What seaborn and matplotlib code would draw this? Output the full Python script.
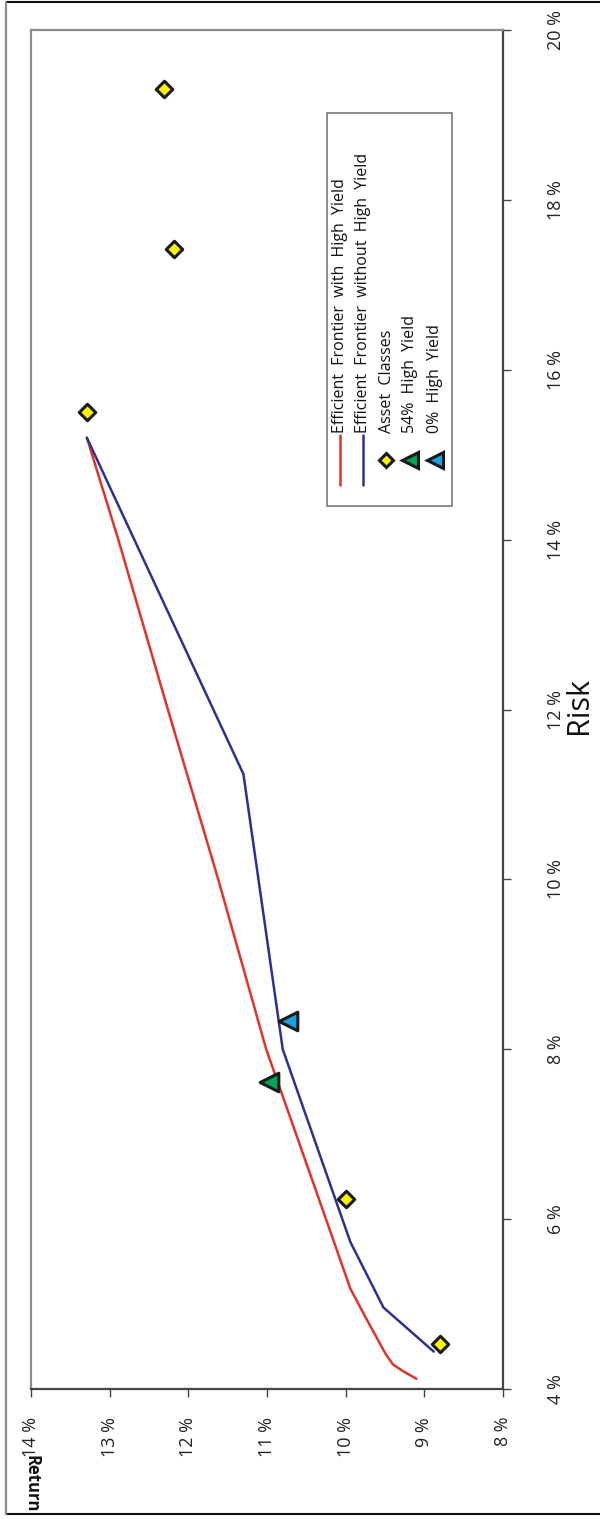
import matplotlib
matplotlib.use("Agg")
import matplotlib.pyplot as plt
from matplotlib.lines import Line2D
from matplotlib.patches import Rectangle
import seaborn as sns

# Efficient frontier including high yield bonds (risk %, return %)
with_hy_risk = [4.12, 4.21, 4.29, 4.41, 4.51, 4.85, 5.18, 6.0, 7.0, 8.0, 10.0, 12.0, 14.0, 15.2]
with_hy_ret = [9.10, 9.27, 9.40, 9.49, 9.55, 9.75, 9.94, 10.25, 10.63, 11.01, 11.62, 12.26, 12.89, 13.29]

# Efficient frontier excluding high yield bonds
without_hy_risk = [4.44, 4.96, 5.73, 8.0, 11.24, 15.2]
without_hy_ret = [8.88, 9.52, 9.94, 10.80, 11.30, 13.29]

# Individual asset classes
asset_risk = [4.53, 6.24, 15.5, 17.42, 19.31]
asset_ret = [8.80, 10.00, 13.29, 12.18, 12.31]

# Selected portfolios
p54_risk, p54_ret = [7.61], [10.98]
p0_risk, p0_ret = [8.33], [10.73]

ret_ticks = [8, 9, 10, 11, 12, 13, 14]
risk_ticks = [4, 6, 8, 10, 12, 14, 16, 18, 20]
legend_labels = [
    "Efficient  Frontier  with  High  Yield",
    "Efficient  Frontier  without  High  Yield",
    "Asset  Classes",
    "54%  High  Yield",
    "0%  High  Yield",
]

RED = "#e0342b"
BLUE = "#2e3192"
YELLOW = "#fff200"
GREEN = "#00a651"
CYAN = "#1ba1e2"
EDGE = "#1a1a1a"

sns.set_theme(style="white")
plt.rcParams["font.family"] = ["Open Sans", "DejaVu Sans"]

W, H = 600, 1519
fig = plt.figure(figsize=(W / 100, H / 100), dpi=100)


def fx(px):
    return px / W


def fy(py):
    return 1 - py / H


ax = fig.add_axes([fx(31), fy(1389), (503 - 31) / W, (1389 - 30) / H])

# The chart is laid out turned on its side: return runs along the bottom,
# risk runs up the right-hand side.
sns.lineplot(x=with_hy_ret, y=with_hy_risk, sort=False, color=RED, lw=1.8, ax=ax)
sns.lineplot(x=without_hy_ret, y=without_hy_risk, sort=False, color=BLUE, lw=1.8, ax=ax)
sns.scatterplot(x=asset_ret, y=asset_risk, marker="D", s=70, color=YELLOW,
                edgecolor=EDGE, linewidth=2.2, ax=ax, zorder=5)
sns.scatterplot(x=p54_ret, y=p54_risk, marker="<", s=180, color=GREEN,
                edgecolor=EDGE, linewidth=2.2, ax=ax, zorder=5)
sns.scatterplot(x=p0_ret, y=p0_risk, marker="<", s=180, color=CYAN,
                edgecolor=EDGE, linewidth=2.2, ax=ax, zorder=5)

ax.set_xlim(14, 8)
ax.set_ylim(4, 20)
ax.set_xticks(ret_ticks)
ax.set_xticklabels([f"{v} %" for v in ret_ticks], rotation=90)
ax.yaxis.tick_right()
ax.set_yticks(risk_ticks)
ax.set_yticklabels([f"{v} %" for v in risk_ticks], rotation=90, va="center")
ax.tick_params(axis="x", direction="out", length=6, width=1, color="#444",
               labelsize=13, pad=14, labelcolor="#222", bottom=True)
ax.tick_params(axis="y", direction="out", length=6, width=1, color="#444",
               labelsize=13, pad=26, labelcolor="#222", right=True)

for side in ("top", "left"):
    ax.spines[side].set_color("#8c8c8c")
    ax.spines[side].set_linewidth(1.6)
for side in ("bottom", "right"):
    ax.spines[side].set_color("#444444")
    ax.spines[side].set_linewidth(1.6)

ax.set_xlabel("")
ax.set_ylabel("")
fig.text(fx(579), fy(706), "Risk", rotation=90, fontsize=22,
         ha="center", va="center", color="#111")
fig.text(fx(31), fy(1484), "Return", rotation=270, fontsize=12,
         fontweight="bold", ha="center", va="center", color="#111")

# Legend box drawn in figure pixels, turned like the chart
fig.add_artist(Rectangle((fx(327), fy(506)), (452 - 327) / W, (506 - 113) / H,
                         transform=fig.transFigure, facecolor="white",
                         edgecolor="#777", lw=1.2, zorder=10))
fig.add_artist(Line2D([fx(340), fx(340)], [fy(485), fy(435)],
                      color=RED, lw=1.8, zorder=11))
fig.add_artist(Line2D([fx(363), fx(363)], [fy(485), fy(435)],
                      color=BLUE, lw=1.8, zorder=11))
fig.add_artist(Line2D([fx(386)], [fy(460)], marker="D", ms=7.5, mfc=YELLOW,
                      mec=EDGE, mew=2.2, zorder=11))
fig.add_artist(Line2D([fx(410)], [fy(460)], marker="<", ms=11, mfc=GREEN,
                      mec=EDGE, mew=2.2, zorder=11))
fig.add_artist(Line2D([fx(435)], [fy(460)], marker="<", ms=11, mfc=CYAN,
                      mec=EDGE, mew=2.2, zorder=11))
for px, label in zip([340, 363, 387, 410, 435], legend_labels):
    fig.text(fx(px), fy(433), label, rotation=90, fontsize=11.5,
             ha="center", va="bottom", color="#111", zorder=12)

# Outer frame of the figure
fig.add_artist(Line2D([fx(6), 1], [fy(2), fy(2)], color="#111", lw=1.5))
fig.add_artist(Line2D([fx(6), 1], [fy(1514), fy(1514)], color="#111", lw=1.5))
fig.add_artist(Line2D([fx(6), fx(6)], [fy(2), fy(1514)], color="#8c8c8c", lw=1.6))

fig.savefig("out.png", dpi=100)
